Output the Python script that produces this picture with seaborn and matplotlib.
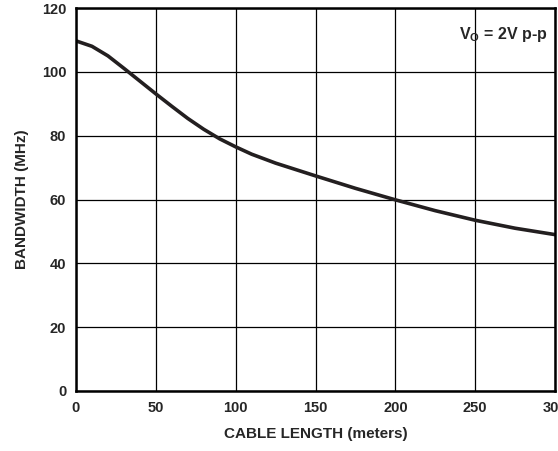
import matplotlib
matplotlib.use('Agg')
import matplotlib.pyplot as plt
import seaborn as sns
import pandas as pd

# bandwidth vs cable length
cable_length = [0, 10, 20, 30, 40, 50, 60, 70, 80, 90, 100, 110, 125, 150, 175, 200, 225, 250, 275, 300]
bandwidth = [109.7, 108.0, 105.0, 101.1, 97.1, 93.1, 89.2, 85.4, 82.0, 79.0, 76.5, 74.2, 71.4, 67.4, 63.5, 59.9, 56.5, 53.5, 51.0, 49.0]
x_ticks = [0, 50, 100, 150, 200, 250, 300]
y_ticks = [0, 20, 40, 60, 80, 100, 120]

sns.set_style('white')
plt.rcParams['font.family'] = ['Liberation Sans', 'DejaVu Sans']
plt.rcParams['font.weight'] = 'bold'
plt.rcParams['mathtext.fontset'] = 'custom'
plt.rcParams['mathtext.bf'] = 'Liberation Sans:bold'
plt.rcParams['mathtext.rm'] = 'Liberation Sans:bold'

df = pd.DataFrame({'length': cable_length, 'bw': bandwidth})

fig = plt.figure(figsize=(5.58, 4.51), dpi=100)
ax = fig.add_axes([76 / 558, 60 / 451, 479 / 558, 383 / 451])

sns.lineplot(data=df, x='length', y='bw', color='#231f20', linewidth=2.6, ax=ax)

ax.set_xlim(0, 300)
ax.set_ylim(0, 120)
ax.set_xticks(x_ticks)
ax.set_yticks(y_ticks)
ax.set_xticklabels([str(v) for v in x_ticks], fontsize=10.5, fontweight='bold')
ax.set_yticklabels([str(v) for v in y_ticks], fontsize=10.5, fontweight='bold')
ax.tick_params(length=0, pad=7)
ax.grid(True, color='black', linewidth=0.9)
for s in ax.spines.values():
    s.set_color('black')
    s.set_linewidth(1.8)

ax.set_xlabel('CABLE LENGTH (meters)', fontsize=11, fontweight='bold', labelpad=9)
ax.set_ylabel('BANDWIDTH (MHz)', fontsize=11, fontweight='bold', labelpad=9)

ax.text(0.985, 0.955, r'$\mathbf{V_O}$ = 2V p-p', transform=ax.transAxes,
        ha='right', va='top', fontsize=11.5, fontweight='bold')

plt.savefig('out.png', dpi=100)
